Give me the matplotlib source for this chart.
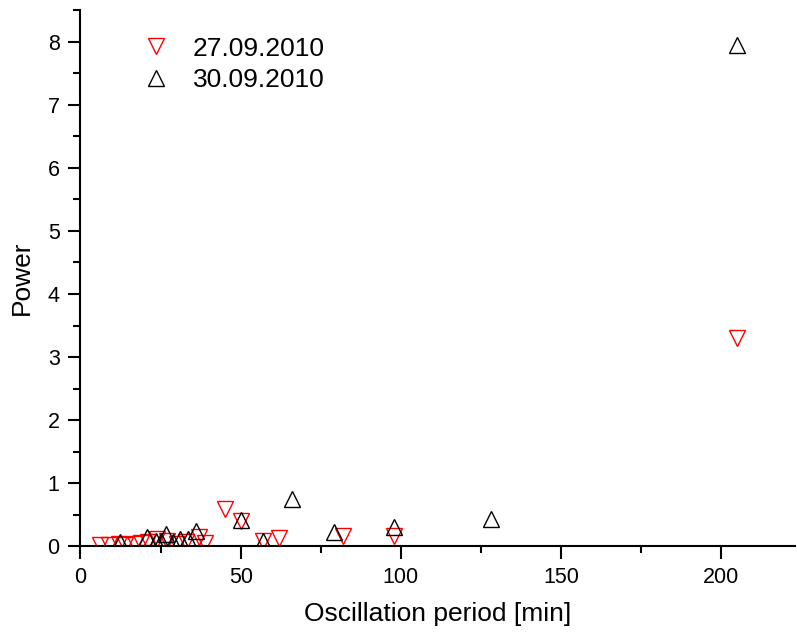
import numpy as np
import matplotlib.pyplot as plt
from matplotlib.ticker import MultipleLocator

plt.rcParams['font.family'] = ['Liberation Sans', 'DejaVu Sans']

# ------------------------------------------------------------
# Data
period_2709 = [6, 9, 12, 14, 17, 19, 21, 24, 27, 30, 33, 37, 39, 45, 50, 57, 62, 82, 98, 205]
power_2709 = [0.02, 0.02, 0.03, 0.02, 0.04, 0.05, 0.06, 0.12, 0.08, 0.04, 0.06, 0.15, 0.05,
              0.59, 0.40, 0.08, 0.13, 0.17, 0.17, 3.30]

period_3009 = [12.3, 20.8, 23.7, 25, 26.7, 29, 31, 33.6, 36, 50, 57, 66, 79, 98, 128, 205]
power_3009 = [0.06, 0.15, 0.09, 0.08, 0.19, 0.07, 0.12, 0.12, 0.25, 0.42, 0.09, 0.75,
              0.22, 0.30, 0.43, 7.95]

labels = ["27.09.2010", "30.09.2010"]

# ------------------------------------------------------------
# Plot
fig = plt.figure(figsize=(7.97, 6.33), dpi=100)
ax = fig.add_axes([0.101, 0.137, 0.8965, 0.847])

ax.plot(period_2709, power_2709, linestyle='none', marker='v', ms=11,
        mfc='none', mec='red', mew=1.0, label=labels[0])
ax.plot(period_3009, power_3009, linestyle='none', marker='^', ms=11,
        mfc='none', mec='black', mew=1.0, label=labels[1])

ax.set_xlim(0, 223)
ax.set_ylim(0, 8.5)
ax.xaxis.set_major_locator(MultipleLocator(50))
ax.xaxis.set_minor_locator(MultipleLocator(25))
ax.yaxis.set_major_locator(MultipleLocator(1))
ax.yaxis.set_minor_locator(MultipleLocator(0.5))

for s in ['top', 'right']:
    ax.spines[s].set_visible(False)
for s in ['left', 'bottom']:
    ax.spines[s].set_linewidth(1.5)
ax.tick_params(which='major', direction='out', length=9, width=1.5, labelsize=15.5, pad=6)
ax.tick_params(which='minor', direction='out', length=5, width=1.5)

ax.set_xlabel("Oscillation period [min]", fontsize=19, labelpad=10)
ax.set_ylabel("Power", fontsize=19, labelpad=10)

ax.legend(loc='upper left', bbox_to_anchor=(0.036, 0.995), frameon=False,
          fontsize=19, handletextpad=0.37, labelspacing=0.3, markerscale=1.0)

plt.savefig("out.png", dpi=100)
